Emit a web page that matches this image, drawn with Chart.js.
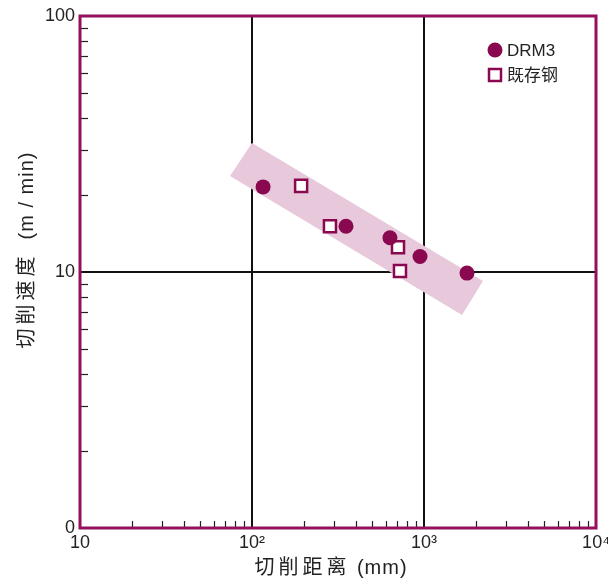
<!DOCTYPE html>
<html>
<head>
<meta charset="utf-8">
<script src="https://cdn.jsdelivr.net/npm/chart.js@4/dist/chart.umd.min.js"></script>
<style>
  html, body { margin: 0; padding: 0; background: #fff; }
  #wrap { width: 608px; height: 580px; }
</style>
</head>
<body>
<div id="wrap"><canvas id="cuttingChart" width="608" height="580"></canvas></div>
<script>
// data
const drmX = [116, 352, 634, 948, 1778];
const drmY = [21.5, 15.1, 13.6, 11.5, 9.9];
const oldX = [193, 284, 706, 725];
const oldY = [21.7, 15.1, 12.5, 10.1];
// scatter band (corners of the shaded strip)
const bandX = [74.5, 100, 2203, 1664, 74.5];
const bandY = [23.7, 31.9, 9.22, 6.79, 23.7];

const xTicks = [10, 100, 1000, 10000];
const xTickLabels = ['10', '10²', '10³', '10⁴'];
const yTicks = [1, 10, 100];
const yTickLabels = ['0', '10', '100'];
const seriesNames = ['DRM3', '既存钢'];
const xTitle = ['切削距离', ' (mm)'];
const yTitle = ['切削速度', '  (m / min)'];

const frameColor = '#960f5a';
const markColor = '#8a0850';
const bandColor = '#e8c9dc';
const font = "'Liberation Sans', Arial, 'Noto Sans CJK SC', sans-serif";

function toPts(xs, ys) {
  return xs.map((x, i) => ({ x, y: ys[i] }));
}

function minorValues(lo, hi) {
  const out = [];
  for (let d = lo; d < hi; d *= 10) {
    for (let k = 2; k <= 9; k++) out.push(d * k);
  }
  return out;
}

// CJK part spaced out, latin part normal, centred on (0,0)
function drawTitle(ctx, parts) {
  ctx.letterSpacing = '4px';
  const w1 = ctx.measureText(parts[0]).width;
  ctx.letterSpacing = '1px';
  const w2 = ctx.measureText(parts[1]).width;
  const start = -(w1 + w2) / 2;
  ctx.textAlign = 'left';
  ctx.letterSpacing = '4px';
  ctx.fillText(parts[0], start, 0);
  ctx.letterSpacing = '1px';
  ctx.fillText(parts[1], start + w1, 0);
}

// border on all four sides, inward minor ticks, titles, legend
const decorPlugin = {
  id: 'decor',
  afterDatasetsDraw(chart) {
    const { ctx, chartArea: a, scales } = chart;
    const xs = scales.x, ys = scales.y;
    ctx.save();
    // minor ticks
    ctx.strokeStyle = '#222';
    ctx.lineWidth = 1.2;
    minorValues(10, 10000).forEach(v => {
      const px = Math.round(xs.getPixelForValue(v)) + 0.5;
      ctx.beginPath();
      ctx.moveTo(px, a.bottom);
      ctx.lineTo(px, a.bottom - 7);
      ctx.stroke();
    });
    minorValues(1, 100).forEach(v => {
      const py = Math.round(ys.getPixelForValue(v)) + 0.5;
      ctx.beginPath();
      ctx.moveTo(a.left, py);
      ctx.lineTo(a.left + 8, py);
      ctx.stroke();
    });
    // frame
    ctx.strokeStyle = frameColor;
    ctx.lineWidth = 3;
    ctx.strokeRect(a.left, a.top, a.right - a.left, a.bottom - a.top);

    // legend
    const lx = a.right - 101, ly = a.top + 34;
    ctx.fillStyle = markColor;
    ctx.beginPath();
    ctx.arc(lx, ly, 7.5, 0, Math.PI * 2);
    ctx.fill();
    ctx.fillStyle = '#fff';
    ctx.strokeStyle = markColor;
    ctx.lineWidth = 2.5;
    ctx.fillRect(lx - 6, ly + 19, 12, 12);
    ctx.strokeRect(lx - 6, ly + 19, 12, 12);
    ctx.fillStyle = '#222';
    ctx.font = '17px ' + font;
    ctx.textAlign = 'left';
    ctx.textBaseline = 'middle';
    ctx.fillText(seriesNames[0], lx + 12, ly + 1);
    ctx.fillText(seriesNames[1], lx + 12, ly + 26);

    // axis titles
    ctx.font = '20px ' + font;
    ctx.fillStyle = '#222';
    ctx.save();
    ctx.translate(331, 568);
    drawTitle(ctx, xTitle);
    ctx.restore();
    ctx.translate(27, 250);
    ctx.rotate(-Math.PI / 2);
    drawTitle(ctx, yTitle);
    ctx.restore();
  }
};

new Chart(document.getElementById('cuttingChart'), {
  type: 'scatter',
  data: {
    datasets: [
      {
        label: 'band',
        data: toPts(bandX, bandY),
        showLine: true,
        fill: 'shape',
        backgroundColor: bandColor,
        borderColor: bandColor,
        borderWidth: 0,
        pointRadius: 0,
        tension: 0,
        order: 3
      },
      {
        label: seriesNames[0],
        data: toPts(drmX, drmY),
        pointStyle: 'circle',
        pointRadius: 7.5,
        backgroundColor: markColor,
        borderColor: markColor,
        borderWidth: 0,
        order: 1
      },
      {
        label: seriesNames[1],
        data: toPts(oldX, oldY),
        pointStyle: 'rect',
        pointRadius: 8.5,
        backgroundColor: '#fff',
        borderColor: markColor,
        borderWidth: 2.5,
        order: 2
      }
    ]
  },
  options: {
    responsive: false,
    animation: false,
    layout: { padding: { top: 16, right: 12, left: 0, bottom: 0 } },
    plugins: { legend: { display: false }, tooltip: { enabled: false } },
    scales: {
      x: {
        type: 'logarithmic',
        min: 10,
        max: 10000,
        afterBuildTicks: s => { s.ticks = xTicks.map(v => ({ value: v })); },
        afterFit: s => { s.height = 52; s.paddingLeft = 0; s.paddingRight = 0; },
        ticks: {
          callback: (v) => xTickLabels[xTicks.indexOf(v)],
          color: '#222',
          font: { family: font, size: 18 },
          maxRotation: 0,
          autoSkip: false,
          padding: 4
        },
        grid: {
          drawTicks: false,
          lineWidth: 2,
          color: ctx => (ctx.tick && (ctx.tick.value === 100 || ctx.tick.value === 1000)) ? '#111' : 'rgba(0,0,0,0)'
        },
        border: { display: false }
      },
      y: {
        type: 'logarithmic',
        min: 1,
        max: 100,
        afterBuildTicks: s => { s.ticks = yTicks.map(v => ({ value: v })); },
        afterFit: s => { s.width = 80; s.paddingTop = 0; s.paddingBottom = 0; },
        ticks: {
          callback: (v) => yTickLabels[yTicks.indexOf(v)],
          color: '#222',
          font: { family: font, size: 18 },
          autoSkip: false,
          padding: 5
        },
        grid: {
          drawTicks: false,
          lineWidth: 2,
          color: ctx => (ctx.tick && ctx.tick.value === 10) ? '#111' : 'rgba(0,0,0,0)'
        },
        border: { display: false }
      }
    }
  },
  plugins: [decorPlugin]
});
</script>
</body>
</html>
